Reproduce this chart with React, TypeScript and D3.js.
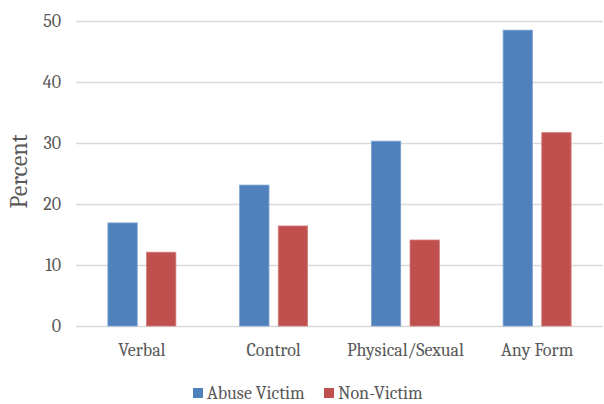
import { useEffect, useRef } from 'react';
import * as d3 from 'd3';

const categories = ['Verbal', 'Control', 'Physical/Sexual', 'Any Form'];
const abuseVictim = [16.9, 23.1, 30.3, 48.5];
const nonVictim = [12.1, 16.4, 14.1, 31.7];
const seriesNames = ['Abuse Victim', 'Non-Victim'];
const yTicks = [0, 10, 20, 30, 40, 50];

const COLORS = ['#4F81BD', '#C0504D'];
const FONT = "Cambria, 'Liberation Serif', serif";

export default function App() {
  const ref = useRef<SVGSVGElement>(null);

  useEffect(() => {
    document.body.style.margin = '0';
    document.documentElement.style.overflow = 'hidden';
    document.body.style.overflow = 'hidden';
    if (!ref.current) return;
    const svg = d3.select(ref.current);
    svg.selectAll('*').remove();

    const margin = { top: 21, right: 1, bottom: 78, left: 76 };
    const width = 604;
    const height = 404;
    const innerW = width - margin.left - margin.right;
    const innerH = height - margin.top - margin.bottom;

    const g = svg.append('g').attr('transform', `translate(${margin.left},${margin.top})`);

    const x = d3.scaleBand().domain(categories).range([0, innerW]).paddingInner(0).paddingOuter(0);
    const x1 = d3.scaleBand().domain(seriesNames).range([0, 68]).paddingInner(0.24);
    const y = d3.scaleLinear().domain([0, 50]).range([innerH, 0]);

    // grid lines
    g.selectAll('.grid')
      .data(yTicks)
      .enter()
      .append('line')
      .attr('x1', 0)
      .attr('x2', innerW)
      .attr('y1', d => Math.round(y(d)) + 0.5)
      .attr('y2', d => Math.round(y(d)) + 0.5)
      .attr('stroke', '#D9D9D9')
      .attr('stroke-width', 1.3);

    // y tick labels
    g.selectAll('.ytick')
      .data(yTicks)
      .enter()
      .append('text')
      .attr('x', -15)
      .attr('y', d => y(d))
      .attr('dy', '0.35em')
      .attr('text-anchor', 'end')
      .attr('fill', '#595959')
      .attr('font-family', FONT)
      .attr('font-size', 18)
      .text(d => d);

    // bars
    const data = categories.map((c, i) => ({ c, vals: [abuseVictim[i], nonVictim[i]] }));
    const groups = g.selectAll('.grp')
      .data(data)
      .enter()
      .append('g')
      .attr('transform', d => `translate(${x(d.c)! + x.bandwidth() / 2 - 34},0)`);

    groups.selectAll('rect')
      .data(d => d.vals.map((v, i) => ({ v, s: seriesNames[i], i })))
      .enter()
      .append('rect')
      .attr('x', d => x1(d.s)!)
      .attr('y', d => y(d.v))
      .attr('width', x1.bandwidth())
      .attr('height', d => innerH - y(d.v))
      .attr('fill', d => COLORS[d.i])
      .attr('stroke', d => (d.i === 0 ? '#7FA3D1' : '#D47F7C'))
      .attr('stroke-width', 0.8);

    // category labels
    g.selectAll('.xlab')
      .data(categories)
      .enter()
      .append('text')
      .attr('x', d => x(d)! + x.bandwidth() / 2)
      .attr('y', innerH + 30)
      .attr('text-anchor', 'middle')
      .attr('fill', '#595959')
      .attr('font-family', FONT)
      .attr('font-size', 18)
      .text(d => d);

    // y axis title
    svg.append('text')
      .attr('transform', `translate(27,${margin.top + innerH / 2 - 2}) rotate(-90)`)
      .attr('text-anchor', 'middle')
      .attr('fill', '#595959')
      .attr('font-family', FONT)
      .attr('font-size', 24)
      .text('Percent');

    // legend
    const legendX = [193, 324];
    const leg = svg.selectAll('.leg')
      .data(seriesNames)
      .enter()
      .append('g')
      .attr('transform', (d, i) => `translate(${legendX[i]},399)`);
    leg.append('rect')
      .attr('x', 0)
      .attr('y', -11)
      .attr('width', 10)
      .attr('height', 10)
      .attr('fill', (d, i) => COLORS[i]);
    leg.append('text')
      .attr('x', 14)
      .attr('y', 0)
      .attr('fill', '#595959')
      .attr('font-family', FONT)
      .attr('font-size', 18)
      .text(d => d);
  }, []);

  return (
    <div style={{ width: 604, height: 404, background: '#fff', overflow: 'hidden' }}>
      <svg ref={ref} width={604} height={404} style={{ display: 'block' }} />
    </div>
  );
}
